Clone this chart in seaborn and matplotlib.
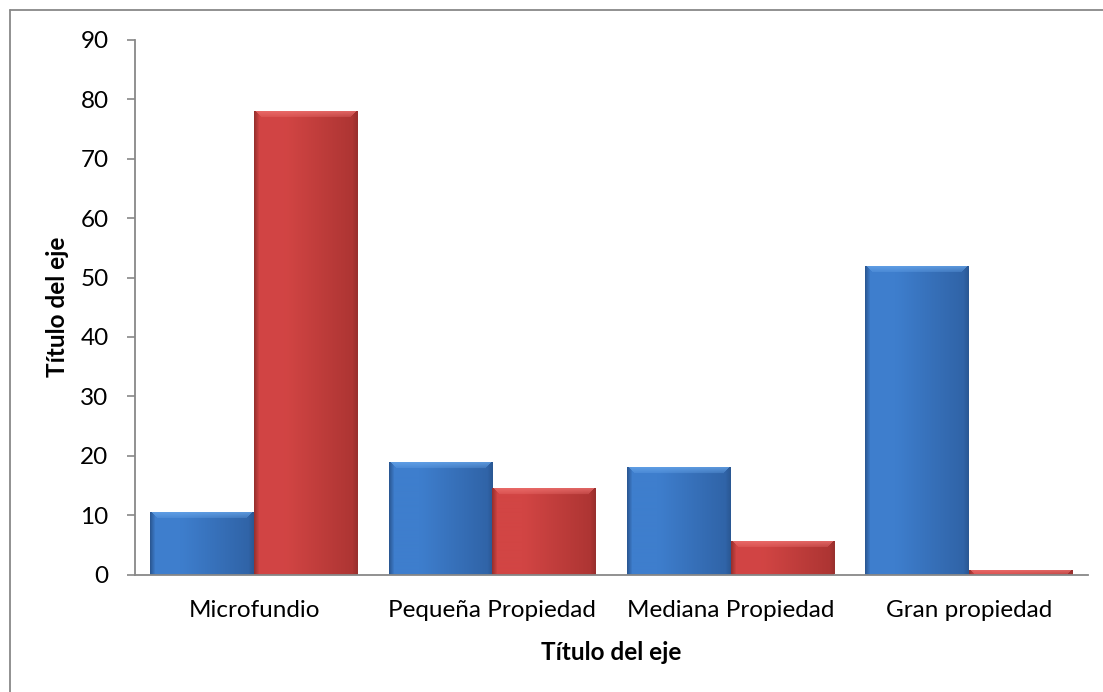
import numpy as np
import pandas as pd
import matplotlib
matplotlib.use("Agg")
import matplotlib.pyplot as plt
import seaborn as sns
from matplotlib.lines import Line2D
from matplotlib.colors import to_rgb

categories = ["Microfundio", "Pequeña Propiedad", "Mediana Propiedad", "Gran propiedad"]
series_names = ["Serie 1", "Serie 2"]
serie1 = [10.6, 18.9, 18.1, 52.0]
serie2 = [78.1, 14.5, 5.7, 0.8]
yticks = [0, 10, 20, 30, 40, 50, 60, 70, 80, 90]
axis_title = "Título del eje"

df = pd.DataFrame({
    "cat": categories * 2,
    "serie": [series_names[0]] * 4 + [series_names[1]] * 4,
    "val": serie1 + serie2,
})

sns.set_theme(style="white")
plt.rcParams["font.family"] = ["Lato", "DejaVu Sans"]

fig = plt.figure(figsize=(11.03, 6.92), dpi=100)
ax = fig.add_axes([135 / 1103, 1 - 574.5 / 692, (1088 - 135) / 1103, (574.5 - 40) / 692])

base_cols = {"Serie 1": "#3b78c4", "Serie 2": "#c93c3a"}
sns.barplot(data=df, x="cat", y="val", hue="serie", order=categories,
            hue_order=series_names, palette=base_cols, width=0.87, gap=0,
            saturation=1, legend=False, ax=ax, linewidth=0)

ax.set_ylim(0, 90)
ax.set_yticks(yticks)
ax.set_xlim(-0.5, 3.5)

# bevel / gradient shading clipped to each bar patch
shades = {
    # edge, light, right-dark, top bevel
    "Serie 1": ("#2a5894", "#3e7ecd", "#2f62a5", "#6aa8ec"),
    "Serie 2": ("#98302e", "#d24544", "#ab3432", "#f07573"),
}
fig.canvas.draw()
p0 = ax.transData.transform((0, 0))
p1 = ax.transData.transform((1, 1))
px_x, px_y = p1[0] - p0[0], p1[1] - p0[1]
for i, p in enumerate(ax.patches):
    name = series_names[i // len(categories)]
    edge, light, rdark, top = [np.array(to_rgb(c)) for c in shades[name]]
    x0, y0 = p.get_x(), p.get_y()
    w, h = p.get_width(), p.get_height()
    if h <= 0:
        continue
    hp = max(int(round(h * px_y)), 2)
    nx = max(int(round(w * px_x)), 4)
    prof = np.empty((nx, 3))
    for k in range(nx):
        d_left, d_right = k, nx - 1 - k
        tv = k / (nx - 1)
        if tv < 0.3:
            c = light
        else:
            f = (tv - 0.3) / 0.7
            c = light * (1 - f) + rdark * f
        if d_left < 5:
            f = d_left / 5
            c = edge * (1 - f) + c * f
        if d_right < 5:
            f = d_right / 5
            c = edge * (1 - f) + c * f
        prof[k] = c
    img = np.repeat(prof[None, :, :], hp, axis=0)
    bev = min(7, hp)
    for r in range(bev):
        a = 0.8 * (1 - r / (bev + 3))
        lo, hi = r + 1, nx - r - 1
        if hi > lo:
            img[r, lo:hi] = img[r, lo:hi] * (1 - a) + top * a
    img = np.clip(img, 0, 1)
    im = ax.imshow(img, extent=(x0, x0 + w, y0, y0 + h), aspect="auto",
                   origin="upper", zorder=p.get_zorder() + 0.1, interpolation="bilinear")
    im.set_clip_path(p)
ax.set_xlim(-0.5, 3.5)
ax.set_ylim(0, 90)

for s in ["top", "right"]:
    ax.spines[s].set_visible(False)
for s in ["left", "bottom"]:
    ax.spines[s].set_color("#888888")
    ax.spines[s].set_linewidth(1.3)
ax.spines["bottom"].set_zorder(5)

ax.tick_params(axis="y", which="major", left=True, length=6, width=1.2,
               color="#888888", labelsize=17.5, pad=13, labelcolor="black")
ax.tick_params(axis="x", which="major", bottom=False, length=0,
               labelsize=17.5, pad=18.5, labelcolor="black")

ax.set_xlabel(axis_title, fontsize=17.5, fontweight="bold", labelpad=14, color="black")
ax.set_ylabel(axis_title, fontsize=17.5, fontweight="bold", labelpad=8, color="black")

# outer chart border (left and top edges visible)
fig.add_artist(Line2D([9.5 / 1103, 9.5 / 1103], [0, 1 - 10 / 692], transform=fig.transFigure,
                      color="#888888", linewidth=1.3))
fig.add_artist(Line2D([9.5 / 1103, 1], [1 - 10 / 692, 1 - 10 / 692], transform=fig.transFigure,
                      color="#888888", linewidth=1.3))

fig.savefig("out.png", dpi=100)
